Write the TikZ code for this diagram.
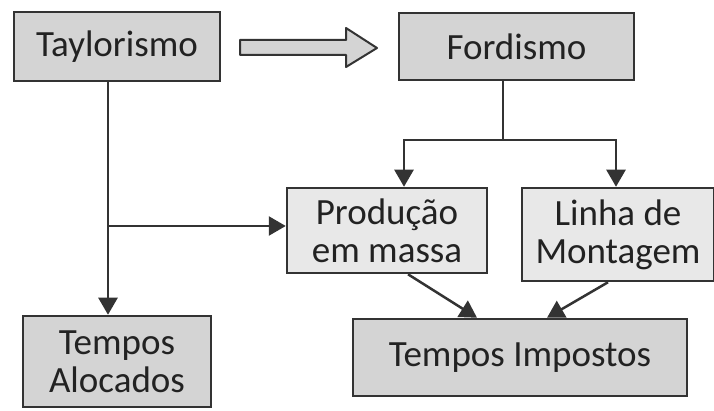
\documentclass[tikz,border=0pt]{standalone}
\usepackage{fontspec}
\setmainfont{Carlito}
\usepackage{tikz}
\usetikzlibrary{arrows.meta}

\definecolor{boxdark}{HTML}{D4D4D4}
\definecolor{boxlight}{HTML}{E8E8E8}
\definecolor{edgegray}{HTML}{333333}
\definecolor{textgray}{HTML}{222222}

\begin{document}
\begin{tikzpicture}[x=1pt,y=-1pt,>={Triangle[width=19pt,length=17pt]},
	box/.style={draw=edgegray, line width=2.5pt, rectangle, inner sep=0pt, align=center,
		text=textgray, font=\fontsize{37}{38}\selectfont},
	darkbox/.style={box, fill=boxdark},
	lightbox/.style={box, fill=boxlight},
	conn/.style={draw=edgegray, line width=2.5pt}]
	\useasboundingbox (0,0) rectangle (714,411);
	\node [darkbox, minimum width=206pt, minimum height=69pt] (taylor) at (117,46.5) {Taylorismo};
	\node [darkbox, minimum width=235pt, minimum height=67pt] (fordismo) at (516.5,46.5) {Fordismo};
	\node [lightbox, minimum width=200pt, minimum height=85pt] (producao) at (387,230.5) {Produção\\em massa};
	\node [lightbox, minimum width=192pt, minimum height=93pt] (linha) at (618,234.5) {Linha de\\Montagem};
	\node [darkbox, minimum width=334pt, minimum height=77pt] (impostos) at (520,357.5) {Tempos Impostos};
	\node [darkbox, minimum width=188pt, minimum height=91pt] (alocados) at (117,361.5) {Tempos\\Alocados};
	% block arrow between the two schools
	\draw [draw=edgegray, line width=2pt, fill=boxdark, line join=round]
		(240,40) -- (346,40) -- (346,28) -- (377,48) -- (346,67) -- (346,55) -- (240,55) -- cycle;
	% taylorismo branch
	\coordinate (branch) at (108,226);
	\path [conn] ([xshift=-9pt]taylor.south) -- (branch);
	\path [conn, ->] (branch) -- ([xshift=-9pt]alocados.north);
	\path [conn, ->] (branch) -- (branch -| producao.west);
	% fordismo branch
	\coordinate (split) at (503,140);
	\path [conn] ([xshift=-13.5pt]fordismo.south) -- (split);
	\path [conn, ->] (split) -| ([xshift=17pt]producao.north);
	\path [conn, ->] (split) -| ([xshift=-2pt]linha.north);
	\path [conn, ->] ([xshift=21pt]producao.south) -- ([xshift=-43pt]impostos.north);
	\path [conn, ->] ([xshift=-10pt]linha.south) -- ([xshift=27pt]impostos.north);
\end{tikzpicture}
\end{document}
